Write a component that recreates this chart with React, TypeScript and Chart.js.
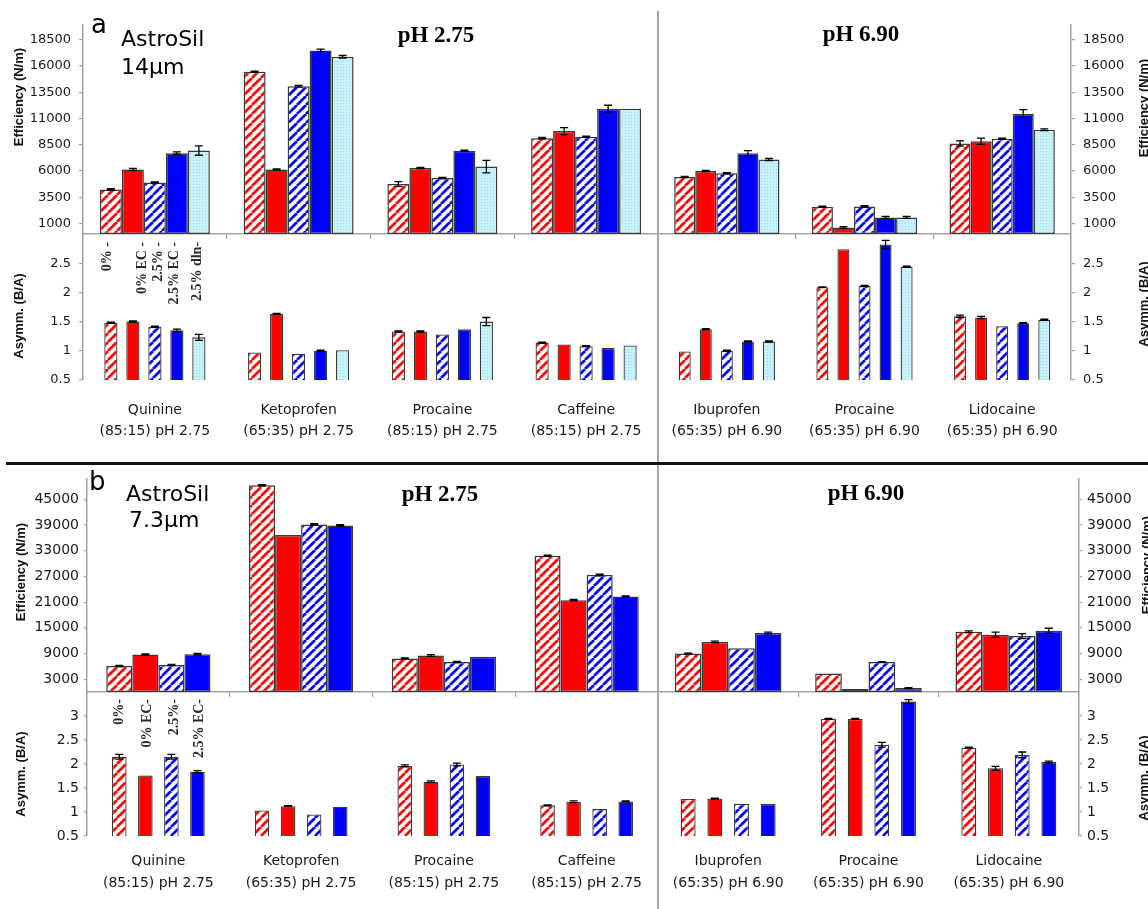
import React, { useEffect, useRef } from 'react';
import { Chart, registerables } from 'chart.js';
Chart.register(...registerables);

// ---------------- DATA ----------------
const groupsLeft: string[][] = [
  ['Quinine', '(85:15) pH 2.75'],
  ['Ketoprofen', '(65:35) pH 2.75'],
  ['Procaine', '(85:15) pH 2.75'],
  ['Caffeine', '(85:15) pH 2.75'],
];
const groupsRight: string[][] = [
  ['Ibuprofen', '(65:35) pH 6.90'],
  ['Procaine', '(65:35) pH 6.90'],
  ['Lidocaine', '(65:35) pH 6.90'],
];

const seriesNamesA = ['0% -', '0% EC -', '2.5% -', '2.5% EC -', '2.5% dln-'];
const seriesNamesB = ['0%-', '0% EC-', '2.5%-', '2.5% EC-'];

// Panel a (AstroSil 14µm) – efficiency (N/m)
const effA_0 = [4250, 15450, 4760, 9130, 5430, 2600, 8620];
const effA_0EC = [6150, 6140, 6290, 9800, 6000, 620, 8840];
const effA_25 = [4900, 14070, 5340, 9260, 5790, 2630, 9070];
const effA_25EC = [7700, 17480, 7920, 11940, 7700, 1580, 11460];
const effA_25dln = [7950, 16880, 6420, 11940, 7090, 1580, 9930];
const effErrA_0 = [60, 60, 220, 60, 60, 60, 250];
const effErrA_0EC = [100, 60, 60, 330, 60, 80, 300];
const effErrA_25 = [60, 80, 60, 60, 60, 60, 60];
const effErrA_25EC = [120, 120, 60, 320, 240, 100, 380];
const effErrA_25dln = [450, 120, 600, 0, 100, 100, 80];

// Panel a – asymmetry (B/A)
const asyA_0 = [1.48, 0.97, 1.33, 1.14, 0.99, 2.09, 1.59];
const asyA_0EC = [1.5, 1.63, 1.33, 1.11, 1.37, 2.74, 1.57];
const asyA_25 = [1.41, 0.95, 1.28, 1.08, 1.0, 2.11, 1.42];
const asyA_25EC = [1.35, 1.0, 1.37, 1.05, 1.16, 2.82, 1.47];
const asyA_25dln = [1.23, 1.01, 1.5, 1.09, 1.16, 2.44, 1.53];
const asyErrA_0 = [0.01, 0, 0.01, 0.01, 0, 0.005, 0.02];
const asyErrA_0EC = [0.01, 0.01, 0.01, 0, 0.01, 0, 0.02];
const asyErrA_25 = [0.01, 0, 0, 0.01, 0.01, 0.01, 0];
const asyErrA_25EC = [0.02, 0.01, 0, 0, 0.01, 0.07, 0.01];
const asyErrA_25dln = [0.05, 0, 0.07, 0, 0.01, 0.01, 0.01];

// Panel b (AstroSil 7.3µm) – efficiency (N/m)
const effB_0 = [6070, 48300, 7850, 31850, 9000, 4310, 14080];
const effB_0EC = [8770, 36700, 8540, 21460, 11690, 690, 13390];
const effB_25 = [6300, 39160, 6990, 27310, 10230, 7000, 13080];
const effB_25EC = [8840, 38930, 8230, 22310, 13770, 920, 14310];
const effErrB_0 = [150, 150, 100, 150, 100, 0, 200];
const effErrB_0EC = [150, 0, 200, 150, 200, 0, 580];
const effErrB_25 = [150, 150, 150, 200, 0, 100, 580];
const effErrB_25EC = [200, 150, 0, 150, 200, 100, 580];

// Panel b – asymmetry (B/A)
const asyB_0 = [2.15, 1.03, 1.96, 1.14, 1.27, 2.94, 2.34];
const asyB_0EC = [1.76, 1.12, 1.63, 1.21, 1.28, 2.94, 1.91];
const asyB_25 = [2.15, 0.95, 1.99, 1.06, 1.17, 2.4, 2.19];
const asyB_25EC = [1.84, 1.11, 1.75, 1.22, 1.17, 3.3, 2.04];
const asyErrB_0 = [0.05, 0, 0.02, 0.01, 0, 0.01, 0.01];
const asyErrB_0EC = [0, 0.01, 0.02, 0.02, 0.01, 0.01, 0.04];
const asyErrB_25 = [0.05, 0, 0.03, 0, 0, 0.05, 0.06];
const asyErrB_25EC = [0.02, 0, 0, 0.01, 0, 0.04, 0.02];

// Axis ticks
const effTicksA = [1000, 3500, 6000, 8500, 11000, 13500, 16000, 18500];
const effTicksB = [3000, 9000, 15000, 21000, 27000, 33000, 39000, 45000];
const asyTicksA = [0.5, 1, 1.5, 2, 2.5];
const asyTicksB = [0.5, 1, 1.5, 2, 2.5, 3];

const stylesA = ['redHatch', 'red', 'blueHatch', 'blue', 'dots'];
const stylesB = ['redHatch', 'red', 'blueHatch', 'blue'];

// ---------------- helpers ----------------
type Half = 'L' | 'R';
const part = (arr: any[], h: Half) => (h === 'L' ? arr.slice(0, 4) : arr.slice(4));

function makeFill(style: string, ctx: CanvasRenderingContext2D): any {
  if (style === 'red') return '#ff0000';
  if (style === 'blue') return '#0000ff';
  const c = document.createElement('canvas');
  const g = c.getContext('2d')!;
  if (style === 'dots') {
    c.width = 3; c.height = 3;
    g.fillStyle = '#c8f3fd';
    g.fillRect(0, 0, 3, 3);
    g.fillStyle = '#92dcef';
    g.fillRect(1, 1, 1, 1);
  } else {
    const s = 9;
    c.width = s; c.height = s;
    g.fillStyle = '#ffffff';
    g.fillRect(0, 0, s, s);
    g.strokeStyle = style === 'redHatch' ? '#ff0000' : '#0000ff';
    g.lineWidth = 2.7;
    g.beginPath();
    for (const o of [-s, 0, s]) {
      g.moveTo(o, s);
      g.lineTo(o + s, 0);
    }
    g.stroke();
  }
  return ctx.createPattern(c, 'repeat');
}

interface Spec {
  labels: any[];
  names: string[];
  values: number[][];
  errors: number[][];
  styles: string[];
  yMin: number;
  yMax: number;
  yTicks: number[];
  side: 'left' | 'right';
  axisW: number;
  xH: number;
  kind: 'eff' | 'asym';
  catPct: number;
  barPct: number;
  fontSize: number;
  tickLen: number;
  tickPad: number;
  labelPad?: number;
  lineHeight?: number;
  rot?: { texts: string[]; dx: number[]; top: number };
}

const AXIS = '#a3a3a3';

function buildConfig(spec: Spec, ctx: CanvasRenderingContext2D): any {
  const datasets = spec.values.map((vals, i) => ({
    label: spec.names[i],
    data: vals,
    errors: spec.errors[i],
    backgroundColor: makeFill(spec.styles[i], ctx),
    borderColor: '#3a3a3a',
    borderWidth: spec.kind === 'eff' ? 1.5 : 1.3,
    borderSkipped: false,
    barPercentage: spec.barPct,
    categoryPercentage: spec.catPct,
  }));

  const errorBars = {
    id: 'errorBars',
    afterDatasetsDraw(chart: any) {
      const c = chart.ctx;
      const ys = chart.scales.y;
      c.save();
      c.strokeStyle = '#000';
      c.lineWidth = 1.3;
      chart.data.datasets.forEach((ds: any, di: number) => {
        const meta = chart.getDatasetMeta(di);
        meta.data.forEach((bar: any, i: number) => {
          const e = ds.errors ? ds.errors[i] : 0;
          if (!e) return;
          const v = ds.data[i];
          const y1 = ys.getPixelForValue(v - e);
          const y2 = ys.getPixelForValue(v + e);
          const x = bar.x;
          c.beginPath();
          c.moveTo(x, y1); c.lineTo(x, y2);
          c.moveTo(x - 4, y1); c.lineTo(x + 4, y1);
          c.moveTo(x - 4, y2); c.lineTo(x + 4, y2);
          c.stroke();
        });
      });
      c.restore();
    },
  };

  const rotLabels = {
    id: 'rotLabels',
    afterDatasetsDraw(chart: any) {
      if (!spec.rot) return;
      const c = chart.ctx;
      c.save();
      c.font = 'bold 14px "Liberation Serif"';
      c.fillStyle = '#2a2a2a';
      c.textAlign = 'right';
      c.textBaseline = 'middle';
      spec.rot.texts.forEach((t, i) => {
        const bar = chart.getDatasetMeta(i).data[0];
        if (!bar) return;
        c.save();
        c.translate(bar.x + (spec.rot!.dx[i] || 0), chart.chartArea.top + spec.rot!.top);
        c.rotate(-Math.PI / 2);
        c.fillText(t, 0, 0);
        c.restore();
      });
      c.restore();
    },
  };

  const tickFont = { family: 'DejaVu Sans', size: spec.fontSize };
  const y: any = {
    type: 'linear',
    position: spec.side,
    min: spec.yMin,
    max: spec.yMax,
    afterBuildTicks: (s: any) => {
      s.ticks = spec.yTicks.map((v) => ({ value: v }));
    },
    afterFit: (s: any) => {
      s.width = spec.axisW;
      s.paddingTop = 0;
      s.paddingBottom = 0;
    },
    border: { display: true, color: AXIS, width: 1.5 },
    grid: { display: true, drawOnChartArea: false, drawTicks: true, tickLength: spec.tickLen, color: AXIS, lineWidth: 1.2 },
    ticks: { font: tickFont, color: '#1a1a1a', padding: spec.tickPad, autoSkip: false, callback: (v: any) => String(v) },
  };
  const x: any =
    spec.kind === 'eff'
      ? {
          type: 'category',
          position: 'bottom',
          offset: true,
          afterFit: (s: any) => {
            s.height = spec.xH;
            s.paddingLeft = 0;
            s.paddingRight = 0;
          },
          border: { display: true, color: AXIS, width: 1.5 },
          grid: { display: true, offset: true, drawOnChartArea: false, drawTicks: true, tickLength: 5, color: AXIS, lineWidth: 1.2 },
          ticks: { display: false },
        }
      : {
          type: 'category',
          position: 'bottom',
          offset: true,
          afterFit: (s: any) => {
            s.height = spec.xH;
            s.paddingLeft = 0;
            s.paddingRight = 0;
          },
          border: { display: false },
          grid: { display: false, drawTicks: false },
          ticks: {
            font: { family: 'DejaVu Sans', size: 14, lineHeight: spec.lineHeight || 1.5 },
            color: '#1a1a1a',
            padding: spec.labelPad || 0,
            maxRotation: 0,
            minRotation: 0,
            autoSkip: false,
          },
        };

  return {
    type: 'bar',
    data: { labels: spec.labels, datasets },
    options: {
      responsive: false,
      maintainAspectRatio: false,
      animation: false,
      devicePixelRatio: 1,
      events: [],
      layout: { padding: 0 },
      plugins: { legend: { display: false }, tooltip: { enabled: false }, title: { display: false } },
      scales: { x, y },
    },
    plugins: [errorBars, rotLabels],
  };
}

function ChartBox(props: { spec: Spec; left: number; top: number; width: number; height: number }) {
  const ref = useRef<HTMLCanvasElement>(null);
  useEffect(() => {
    const canvas = ref.current!;
    const ctx = canvas.getContext('2d')!;
    const chart = new Chart(ctx, buildConfig(props.spec, ctx));
    return () => chart.destroy();
  }, []);
  const { left, top, width, height } = props;
  return (
    <canvas
      ref={ref}
      width={width}
      height={height}
      style={{ position: 'absolute', left, top, width, height }}
    />
  );
}

// ---------------- specs ----------------
function effSpecA(h: Half): Spec {
  return {
    labels: h === 'L' ? groupsLeft : groupsRight,
    names: seriesNamesA,
    values: [effA_0, effA_0EC, effA_25, effA_25EC, effA_25dln].map((a) => part(a, h)),
    errors: [effErrA_0, effErrA_0EC, effErrA_25, effErrA_25EC, effErrA_25dln].map((a) => part(a, h)),
    styles: stylesA,
    yMin: 0, yMax: 20000, yTicks: effTicksA,
    side: h === 'L' ? 'left' : 'right',
    axisW: h === 'L' ? 83 : 77,
    xH: 8, kind: 'eff', catPct: 0.765, barPct: 1,
    fontSize: 13, tickLen: 4, tickPad: 8,
  };
}
function asySpecA(h: Half): Spec {
  return {
    labels: h === 'L' ? groupsLeft : groupsRight,
    names: seriesNamesA,
    values: [asyA_0, asyA_0EC, asyA_25, asyA_25EC, asyA_25dln].map((a) => part(a, h)),
    errors: [asyErrA_0, asyErrA_0EC, asyErrA_25, asyErrA_25EC, asyErrA_25dln].map((a) => part(a, h)),
    styles: stylesA,
    yMin: 0.5, yMax: 3.0, yTicks: asyTicksA,
    side: h === 'L' ? 'left' : 'right',
    axisW: h === 'L' ? 83 : 77,
    xH: 72, kind: 'asym', catPct: 0.765, barPct: h === 'L' ? 0.6 : 0.57,
    fontSize: 13, tickLen: 4, tickPad: 8,
    labelPad: 19.5, lineHeight: 1.5,
    rot: h === 'L' ? { texts: seriesNamesA, dx: [-3, 10, 4, -2, -1], top: 8 } : undefined,
  };
}
function effSpecB(h: Half): Spec {
  return {
    labels: h === 'L' ? groupsLeft : groupsRight,
    names: seriesNamesB,
    values: [effB_0, effB_0EC, effB_25, effB_25EC].map((a) => part(a, h)),
    errors: [effErrB_0, effErrB_0EC, effErrB_25, effErrB_25EC].map((a) => part(a, h)),
    styles: stylesB,
    yMin: 0, yMax: 50000, yTicks: effTicksB,
    side: h === 'L' ? 'left' : 'right',
    axisW: h === 'L' ? 87 : 69,
    xH: 8, kind: 'eff', catPct: h === 'L' ? 0.73 : 0.76, barPct: 1,
    fontSize: 14, tickLen: 3, tickPad: 5,
  };
}
function asySpecB(h: Half): Spec {
  return {
    labels: h === 'L' ? groupsLeft : groupsRight,
    names: seriesNamesB,
    values: [asyB_0, asyB_0EC, asyB_25, asyB_25EC].map((a) => part(a, h)),
    errors: [asyErrB_0, asyErrB_0EC, asyErrB_25, asyErrB_25EC].map((a) => part(a, h)),
    styles: stylesB,
    yMin: 0.5, yMax: 3.5, yTicks: asyTicksB,
    side: h === 'L' ? 'left' : 'right',
    axisW: h === 'L' ? 87 : 69,
    xH: 70, kind: 'asym', catPct: h === 'L' ? 0.73 : 0.76, barPct: 0.56,
    fontSize: 14, tickLen: 3, tickPad: 5,
    labelPad: 14.5, lineHeight: 1.55,
    rot: h === 'L' ? { texts: seriesNamesB, dx: [0, 2, 3, 2], top: 7 } : undefined,
  };
}

// ---------------- overlay text ----------------
function Txt(p: { x: number; y: number; size: number; family: string; bold?: boolean; center?: boolean; children: any }) {
  return (
    <div
      style={{
        position: 'absolute',
        left: p.x,
        top: p.y,
        fontSize: p.size,
        fontFamily: p.family,
        fontWeight: p.bold ? 'bold' : 'normal',
        lineHeight: 1,
        whiteSpace: 'nowrap',
        color: '#000',
        transform: p.center ? 'translateX(-50%)' : undefined,
      }}
    >
      {p.children}
    </div>
  );
}

function VTitle(p: { cx: number; cy: number; text: string }) {
  return (
    <div
      style={{
        position: 'absolute',
        left: p.cx,
        top: p.cy,
        transform: 'translate(-50%, -50%) rotate(-90deg)',
        fontFamily: '"Liberation Sans"',
        fontWeight: 'bold',
        fontSize: 13,
        lineHeight: 1,
        whiteSpace: 'nowrap',
        color: '#111',
      }}
    >
      {p.text}
    </div>
  );
}

export default function App() {
  return (
    <div
      style={{
        position: 'fixed',
        left: 0,
        top: 0,
        width: 1148,
        height: 909,
        overflow: 'hidden',
        background: '#fff',
      }}
    >
      {/* panel a */}
      <ChartBox spec={effSpecA('L')} left={0} top={24} width={658} height={218} />
      <ChartBox spec={effSpecA('R')} left={658} top={24} width={490} height={218} />
      <ChartBox spec={asySpecA('L')} left={0} top={234} width={658} height={218} />
      <ChartBox spec={asySpecA('R')} left={658} top={234} width={490} height={218} />
      {/* panel b */}
      <ChartBox spec={effSpecB('L')} left={0} top={478} width={658} height={222} />
      <ChartBox spec={effSpecB('R')} left={658} top={478} width={490} height={222} />
      <ChartBox spec={asySpecB('L')} left={0} top={692} width={658} height={214} />
      <ChartBox spec={asySpecB('R')} left={658} top={692} width={490} height={214} />

      {/* separators */}
      <div style={{ position: 'absolute', left: 657, top: 11, width: 2, height: 898, background: '#a6a6a6' }} />
      <div style={{ position: 'absolute', left: 6, top: 462, width: 1142, height: 3, background: '#111' }} />

      {/* panel labels */}
      <Txt x={91} y={11} size={26} family='"DejaVu Sans"'>a</Txt>
      <Txt x={121} y={28} size={22} family='"DejaVu Sans"'>AstroSil</Txt>
      <Txt x={121} y={56} size={22} family='"DejaVu Sans"'>14µm</Txt>
      <Txt x={436} y={23} size={23} family='"Liberation Serif"' bold center>pH 2.75</Txt>
      <Txt x={861} y={22} size={23} family='"Liberation Serif"' bold center>pH 6.90</Txt>

      <Txt x={89} y={468} size={26} family='"DejaVu Sans"'>b</Txt>
      <Txt x={126} y={483} size={22} family='"DejaVu Sans"'>AstroSil</Txt>
      <Txt x={129} y={509} size={22} family='"DejaVu Sans"'>7.3µm</Txt>
      <Txt x={440} y={482} size={23} family='"Liberation Serif"' bold center>pH 2.75</Txt>
      <Txt x={866} y={481} size={23} family='"Liberation Serif"' bold center>pH 6.90</Txt>

      {/* axis titles */}
      <VTitle cx={18} cy={97} text="Efficiency (N/m)" />
      <VTitle cx={18} cy={316} text="Asymm. (B/A)" />
      <VTitle cx={1143} cy={108} text="Efficiency (N/m)" />
      <VTitle cx={1143} cy={304} text="Asymm. (B/A)" />
      <VTitle cx={20} cy={572} text="Efficiency (N/m)" />
      <VTitle cx={20} cy={774} text="Asymm. (B/A)" />
      <VTitle cx={1146} cy={565} text="Efficiency (N/m)" />
      <VTitle cx={1143} cy={778} text="Asymm. (B/A)" />
    </div>
  );
}
